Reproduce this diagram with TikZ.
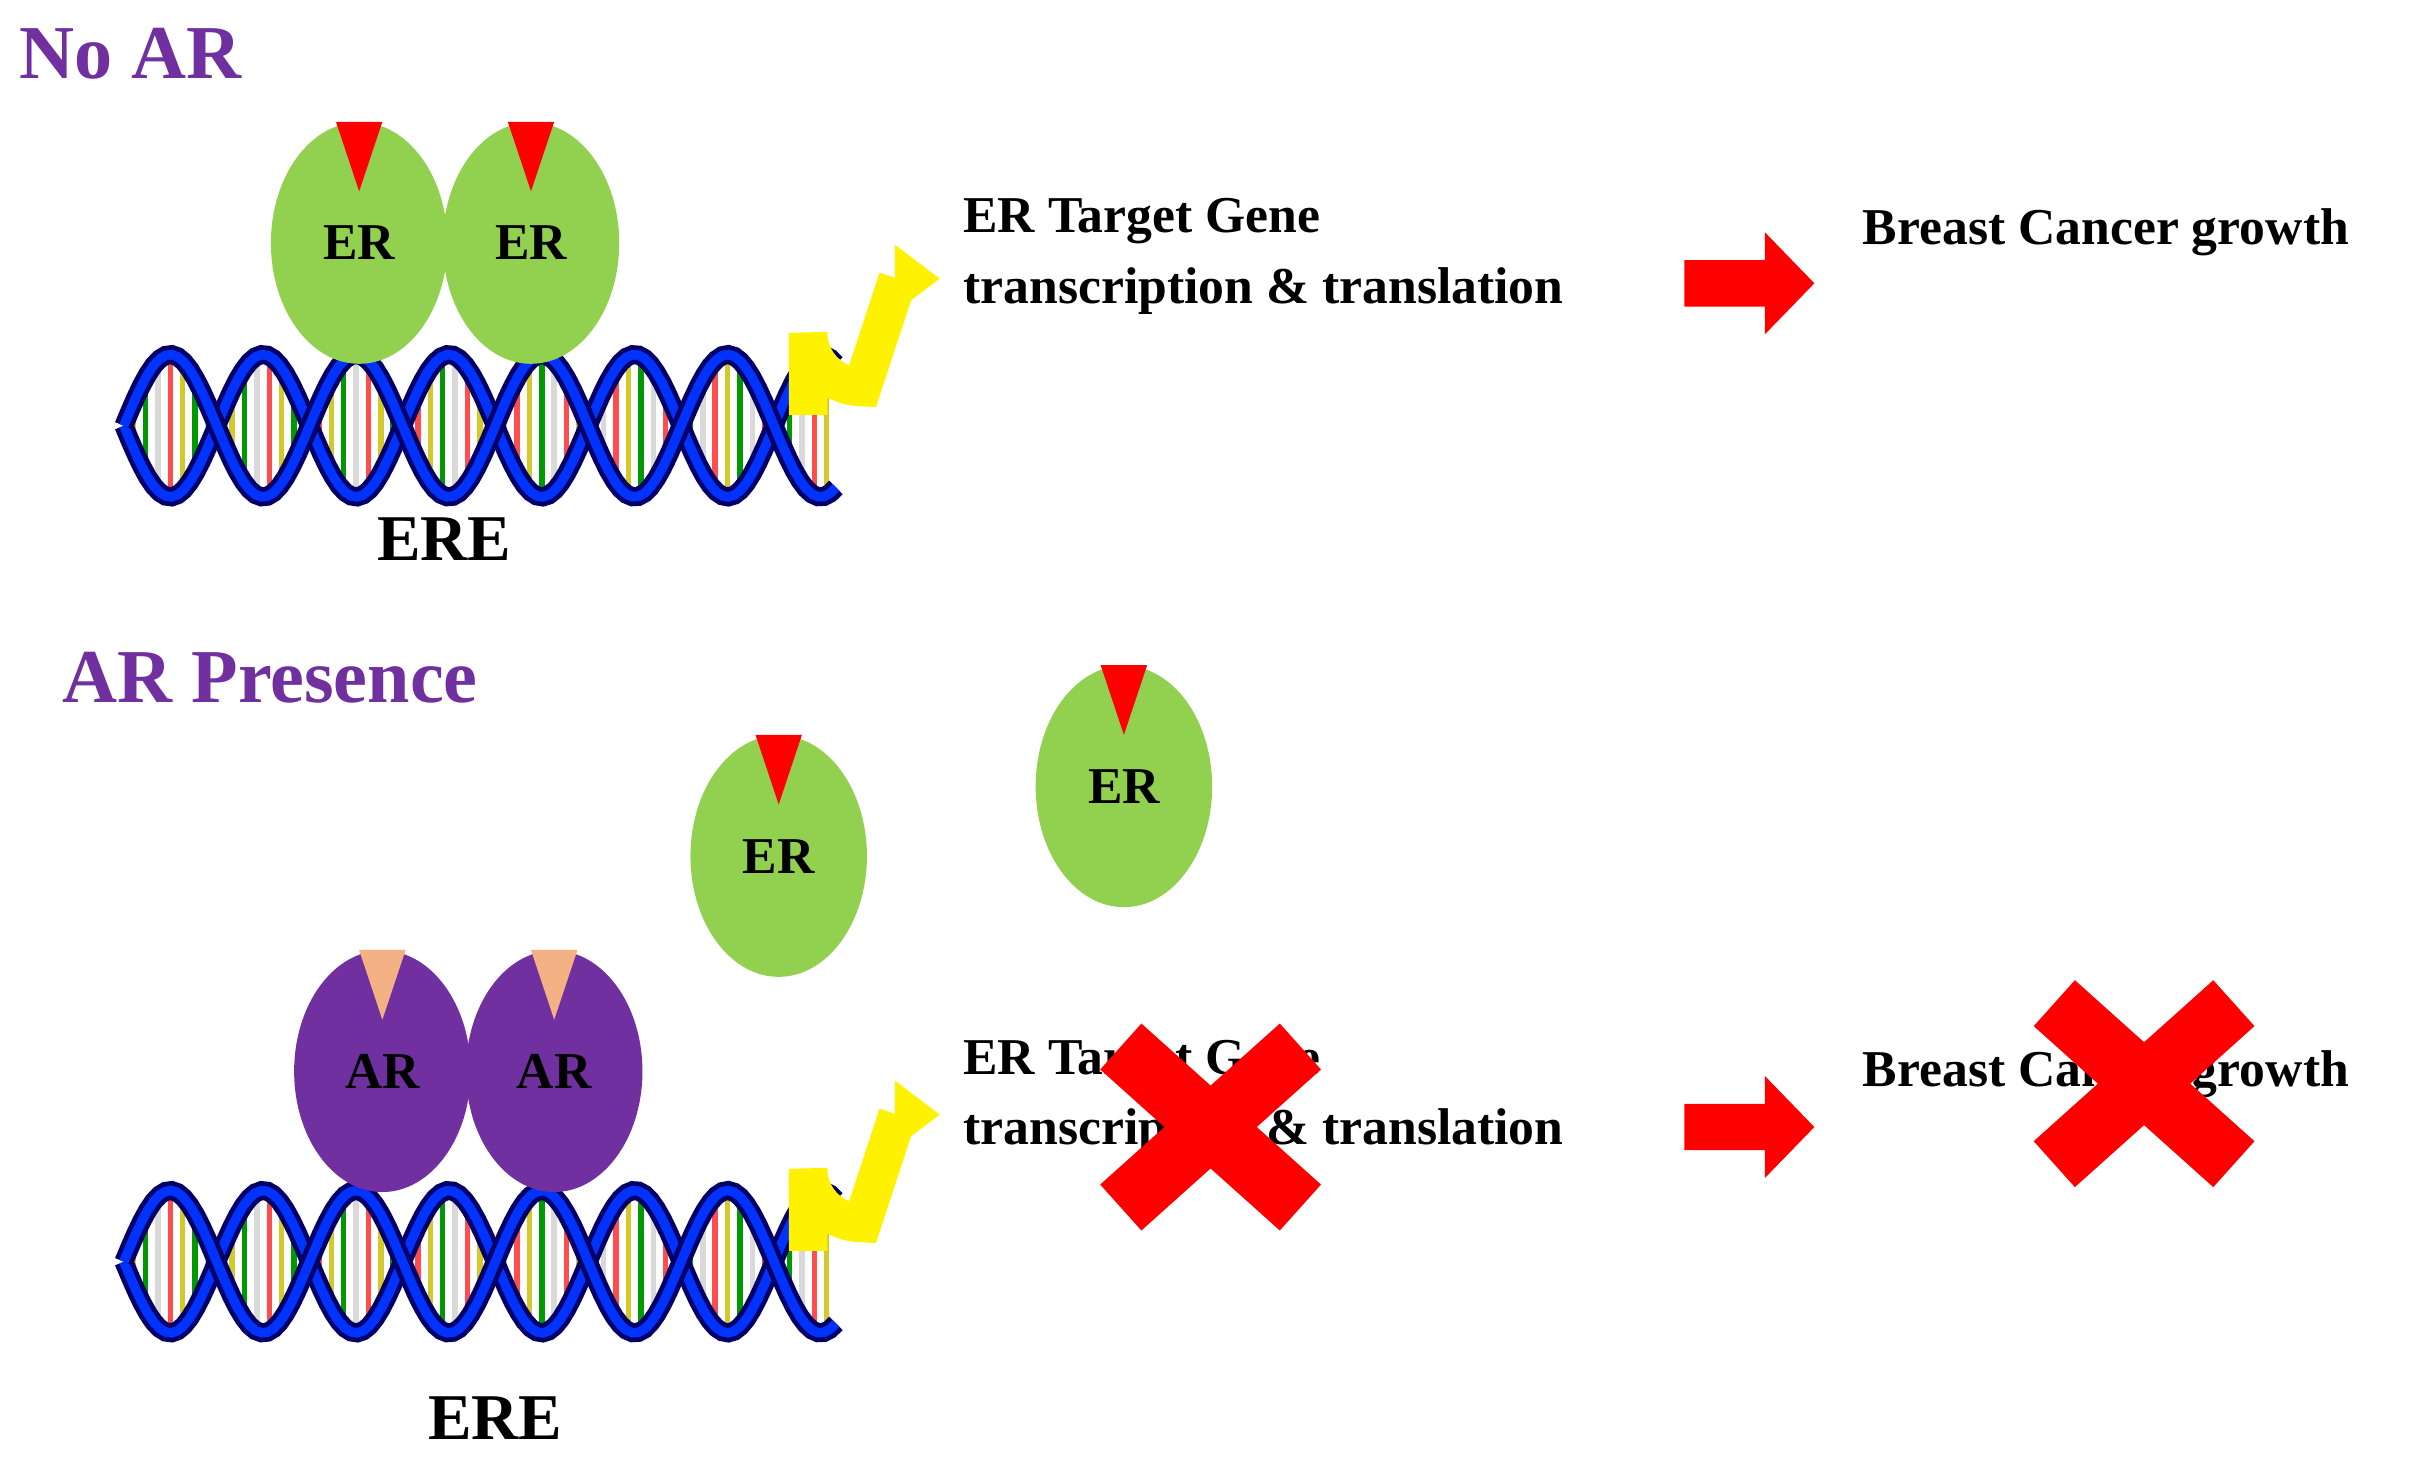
\documentclass[tikz,border=0pt]{standalone}
\usepackage{fontspec}
\setmainfont{Liberation Serif}
\usetikzlibrary{shapes.geometric}
\begin{document}
\begin{tikzpicture}[x=0.02cm,y=-0.02cm,
  lbl/.style={font=\fontsize{19}{22}\selectfont\bfseries,anchor=west,inner sep=0},
  ttl/.style={font=\fontsize{28}{32}\selectfont\bfseries,text=purp,anchor=west,inner sep=0},
  er/.style={ellipse,fill=ergreen,minimum width=114*0.02cm,minimum height=156*0.02cm,inner sep=0,font=\fontsize{19}{22}\selectfont\bfseries},
  ar/.style={er,fill=purp},
  yarr/.style={yellow,line width=25*0.567pt},
  cross/.style={red,line width=40*0.567pt}]
\definecolor{ergreen}{HTML}{92D050}
\definecolor{purp}{HTML}{7030A0}
\definecolor{peach}{HTML}{F4B183}
\path[use as bounding box] (0,0) rectangle (1560,951);
\newcommand{\dnahelix}[1]{%
  \foreach \x [count=\i] in {86,94,...,534}{
    \pgfmathsetmacro{\s}{46*sin((\x-80)*3)}
    \pgfmathtruncatemacro{\m}{mod(\i,4)}
    \ifcase\m \def\cc{red!70}\or\def\cc{yellow!80!black}\or\def\cc{green!60!black}\or\def\cc{gray!30}\fi
    \draw[\cc,line width=2pt] (\x,#1+\s) -- (\x,#1-\s);
  }
  \foreach \sg in {1,-1}{
    \draw[blue!40!black,line width=7pt] plot[domain=80:540,samples=120] (\x,{#1+\sg*46*sin((\x-80)*3)});
    \draw[blue!80!cyan,line width=3.5pt] plot[domain=80:540,samples=120] (\x,{#1+\sg*46*sin((\x-80)*3)});
  }}
\newcommand{\yarrow}[1]{%
  \draw[yarr] (522,#1+268) -- (522,#1+215) arc[start angle=180,end angle=90,radius=35] -- (580,#1+180);
  \fill[yellow] (578,#1+158) -- (607,#1+180) -- (578,#1+202) -- cycle;}
\newcommand{\rarrow}[1]{%
  \fill[red] (1088,#1-15) -- (1140,#1-15) -- (1140,#1-33) -- (1172,#1) -- (1140,#1+33) -- (1140,#1+15) -- (1088,#1+15) -- cycle;}
% top
\node[ttl] (t1) at (12,35) {No AR};
\dnahelix{275}
\node[er] (e1) at (232,157) {ER};
\node[er] (e2) at (343,157) {ER};
\foreach \c in {e1,e2}{\fill[red] ([xshift=-15*0.02cm]\c.north) -- ([xshift=15*0.02cm]\c.north) -- ([yshift=-45*0.02cm]\c.north) -- cycle;}
\yarrow{0}
\node[lbl] (g1) at (622,143) {ER Target Gene};
\node[lbl] (g2) at (622,188) {transcription \& translation};
\rarrow{183}
\node[lbl] (b1) at (1203,150) {Breast Cancer growth};
\node[font=\fontsize{24}{28}\selectfont\bfseries,inner sep=0] (ere1) at (287,348) {ERE};
% bottom
\node[ttl] (t2) at (40,438) {AR Presence};
\dnahelix{815}
\node[ar] (a1) at (247,692) {AR};
\node[ar] (a2) at (358,692) {AR};
\foreach \c in {a1,a2}{\fill[peach] ([xshift=-15*0.02cm]\c.north) -- ([xshift=15*0.02cm]\c.north) -- ([yshift=-45*0.02cm]\c.north) -- cycle;}
\node[er] (e3) at (503,553) {ER};
\node[er] (e4) at (726,508) {ER};
\foreach \c in {e3,e4}{\fill[red] ([xshift=-15*0.02cm]\c.north) -- ([xshift=15*0.02cm]\c.north) -- ([yshift=-45*0.02cm]\c.north) -- cycle;}
\yarrow{540}
\node[lbl] (g3) at (622,687) {ER Target Gene};
\node[lbl] (g4) at (622,731) {transcription \& translation};
\rarrow{728}
\node[lbl] (b2) at (1203,694) {Breast Cancer growth};
\node[font=\fontsize{24}{28}\selectfont\bfseries,inner sep=0] (ere2) at (320,916) {ERE};
\foreach \cx/\cy in {782/728,1385/700}{
  \draw[cross] (\cx-58,\cy-52) -- (\cx+58,\cy+52);
  \draw[cross] (\cx-58,\cy+52) -- (\cx+58,\cy-52);}
\end{tikzpicture}
\end{document}
